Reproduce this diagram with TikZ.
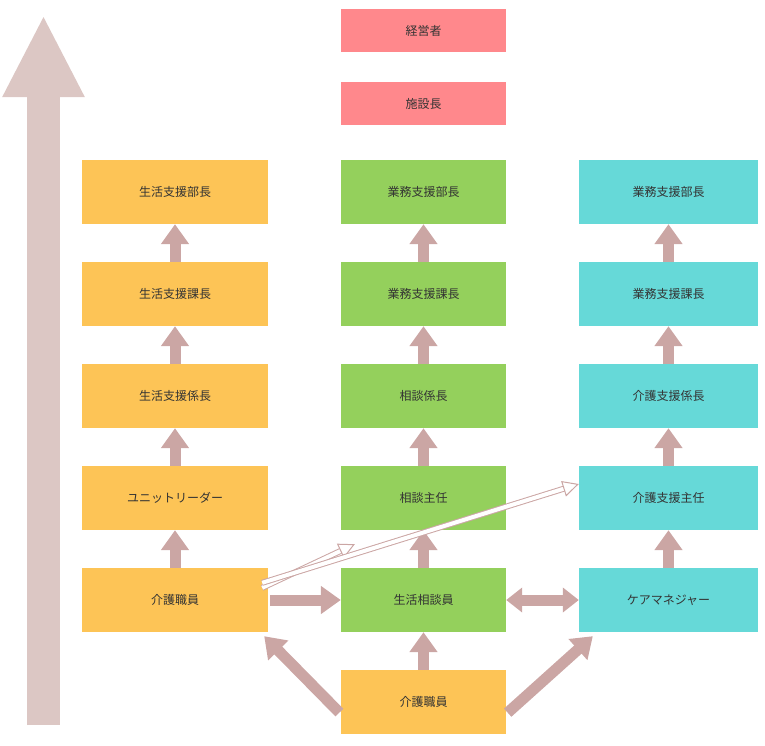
\documentclass[tikz,border=0pt]{standalone}
\usepackage{fontspec}
\newfontfamily\cjk{Noto Sans CJK JP}
\usetikzlibrary{arrows.meta}
\definecolor{org}{HTML}{FDC456}
\definecolor{grn}{HTML}{94D05C}
\definecolor{cyn}{HTML}{66D9D8}
\definecolor{pnk}{HTML}{FF888C}
\definecolor{arc}{HTML}{CBA6A4}
\definecolor{big}{HTML}{DCC7C4}
\definecolor{txt}{HTML}{333333}
\begin{document}
\begin{tikzpicture}[x=1pt,y=-1pt,
 box/.style={inner sep=0,minimum height=64pt,font=\cjk\fontsize{12}{14}\selectfont,text=txt},
 lb/.style={box,fill=org,minimum width=186pt},
 mb/.style={box,fill=grn,minimum width=165pt},
 rb/.style={box,fill=cyn,minimum width=179pt},
 tb/.style={box,fill=pnk,minimum width=165pt,minimum height=43pt},
 blk/.style={arc,line width=11pt,-{Triangle[length=20pt,width=27pt]}},
 dblk/.style={arc,line width=11pt,{Triangle[length=16pt,width=24pt]}-{Triangle[length=16pt,width=24pt]}},
 hol/.style={arc,line width=1pt,double=white,double distance=4pt,-{Triangle[open,length=16pt,width=16pt,fill=white]}}]
\useasboundingbox (0,0) rectangle (765,745);
\node[tb] (ceo) at (423.5,30.5) {経営者};
\node[tb] (dir) at (423.5,103.5) {施設長};
\foreach \n/\t/\y in {l1/生活支援部長/192,l2/生活支援課長/294,l3/生活支援係長/396,l4/ユニットリーダー/498,l5/介護職員/600}
  \node[lb] (\n) at (175,\y) {\t};
\foreach \n/\t/\y in {m1/業務支援部長/192,m2/業務支援課長/294,m3/相談係長/396,m4/相談主任/498,m5/生活相談員/600}
  \node[mb] (\n) at (423.5,\y) {\t};
\foreach \n/\t/\y in {r1/業務支援部長/192,r2/業務支援課長/294,r3/介護支援係長/396,r4/介護支援主任/498,r5/ケアマネジャー/600}
  \node[rb] (\n) at (668.5,\y) {\t};
\node[lb,fill=org,minimum width=165pt] (bot) at (423.5,702) {介護職員};
\coordinate (bs) at (43.5,725);
\coordinate (bt) at (43.5,15);
\draw[big,line width=33pt,-{Triangle[length=82pt,width=76pt]}] (bs) -- (bt);
\foreach \c in {l,m,r}{
 \draw[blk] (\c5.north) -- (\c4.south);
 \draw[blk] (\c4.north) -- (\c3.south);
 \draw[blk] (\c3.north) -- (\c2.south);
 \draw[blk] (\c2.north) -- (\c1.south);}
\draw[blk] (bot.north) -- (m5.south);
\draw[blk] (l5.east) ++(2,0) -- (m5.west);
\draw[dblk] (m5.east) -- (r5.west);
\draw[blk,shorten <=2pt] ([yshift=-12pt]bot.west) -- ([xshift=-4pt,yshift=-4pt]l5.south east);
\draw[blk,shorten <=2pt] ([yshift=-12pt]bot.east) -- ([xshift=14pt,yshift=-4pt]r5.south west);
\draw[hol] ([xshift=-6pt,yshift=-20pt]l5.north east) -- ([xshift=14pt,yshift=-14pt]m4.south west);
\draw[hol] ([xshift=-6pt,yshift=-15pt]l5.north east) -- ([yshift=14pt]r4.west);
\end{tikzpicture}
\end{document}
